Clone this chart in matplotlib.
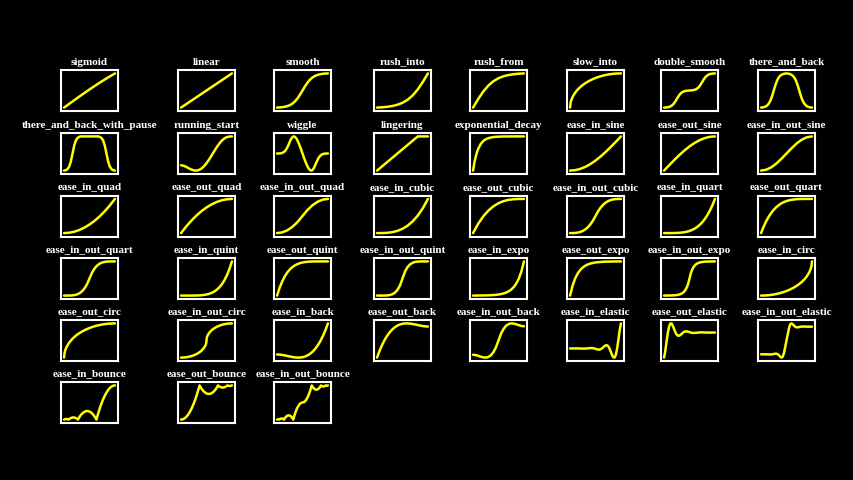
import matplotlib.pyplot as plt

# sample grids (t values)
X11 = [0, .1, .2, .3, .4, .5, .6, .7, .8, .9, 1]
X21 = [0, .05, .1, .15, .2, .25, .3, .35, .4, .45, .5, .55, .6, .65, .7, .75, .8, .85, .9, .95, 1]
X41 = [0, .025, .05, .075, .1, .125, .15, .175, .2, .225, .25, .275, .3, .325, .35, .375, .4, .425,
       .45, .475, .5, .525, .55, .575, .6, .625, .65, .675, .7, .725, .75, .775, .8, .825, .85, .875,
       .9, .925, .95, .975, 1]
X_PAUSE = [0, .0333, .0667, .1, .1333, .1667, .2, .2333, .2667, .3, .3333,
           .6667, .7, .7333, .7667, .8, .8333, .8667, .9, .9333, .9667, 1]
X_DECAY = [0, .025, .05, .075, .1, .15, .2, .25, .3, .4, .5, .6, .7, .8, .9, 1]
X_CIRC_OUT = [0, .01, .025, .05, .1, .15, .2, .25, .3, .35, .4, .45, .5, .55, .6, .65, .7, .75, .8,
              .85, .9, .95, 1]
X_CIRC_IN = [0, .05, .1, .15, .2, .25, .3, .35, .4, .45, .5, .55, .6, .65, .7, .75, .8, .85, .9, .95,
             .975, .99, 1]
X_CIRC_IO = [0, .05, .1, .15, .2, .25, .3, .35, .4, .45, .475, .4875, .495, .5, .505, .5125, .525,
             .55, .6, .65, .7, .75, .8, .85, .9, .95, 1]
X_EXPO_IO = [0, .05, .1, .15, .2, .25, .3, .325, .35, .375, .4, .425, .45, .475, .5, .525, .55, .575,
             .6, .625, .65, .675, .7, .75, .8, .85, .9, .95, 1]
X_BOUNCE_OUT = [0, .025, .05, .075, .1, .125, .15, .175, .2, .225, .25, .275, .3, .325, .35, .3636,
                .375, .4, .425, .45, .475, .5, .525, .55, .575, .6, .625, .65, .675, .7, .725, .7273,
                .75, .775, .8, .825, .85, .875, .9, .9091, .925, .95, .975, 1]
X_BOUNCE_IN = [0, .025, .05, .075, .0909, .1, .125, .15, .175, .2, .225, .25, .2727, .275, .3, .325,
               .35, .375, .4, .425, .45, .475, .5, .525, .55, .575, .6, .625, .6364, .65, .675, .7,
               .725, .75, .775, .8, .825, .85, .875, .9, .925, .95, .975, 1]
X_BOUNCE_IO = [0, .0125, .025, .0375, .0455, .05, .0625, .075, .0875, .1, .1125, .125, .1364, .15,
               .175, .2, .225, .25, .275, .3, .3182, .325, .35, .375, .4, .425, .45, .475, .5,
               .525, .55, .575, .6, .625, .65, .675, .6818, .7, .725, .75, .775, .8, .825, .85,
               .8636, .875, .8875, .9, .9125, .925, .9375, .95, .9545, .9625, .975, .9875, 1]

# rate function values
sigmoid_y = [.5, .525, .5498, .5744, .5987, .6225, .6457, .6682, .69, .711, .7311]
linear_x = [0, 1]
linear_y = [0, 1]
smooth_y = [0, .0044, .0115, .0229, .0413, .0701, .1140, .1781, .2658, .3759, .5, .6241, .7342,
            .8219, .8860, .9299, .9587, .9771, .9885, .9956, 1]
rush_into_y = [0, .0087, .0229, .0459, .0826, .1402, .2281, .3562, .5316, .7518, 1]
rush_from_y = [0, .2482, .4684, .6438, .7720, .8598, .9174, .9542, .9770, .9912, 1]
slow_into_y = [0, .1411, .2222, .3122, .4359, .5268, .6, .6614, .7141, .7599, .8, .8352, .8660,
               .8930, .9165, .9367, .9539, .9682, .9798, .9887, .9950, .9987, 1]
double_smooth_y = [0, .0022, .0057, .0115, .0206, .0350, .0570, .0891, .1329, .1879, .25, .3121,
                   .3671, .4109, .4430, .4650, .4794, .4885, .4943, .4978, .5, .5022, .5057, .5115,
                   .5206, .5350, .5570, .5891, .6329, .6879, .75, .8121, .8671, .9109, .9430, .9650,
                   .9794, .9885, .9943, .9978, 1]
there_and_back_y = [0, .0044, .0115, .0229, .0413, .0701, .1140, .1781, .2658, .3759, .5, .6241,
                    .7342, .8219, .8860, .9299, .9587, .9771, .9885, .9956, 1, .9956, .9885, .9771,
                    .9587, .9299, .8860, .8219, .7342, .6241, .5, .3759, .2658, .1781, .1140, .0701,
                    .0413, .0229, .0115, .0044, 0]
pause_y = [0, .0115, .0413, .1140, .2658, .5, .7342, .8860, .9587, .9885, 1,
           1, .9885, .9587, .8860, .7342, .5, .2658, .1140, .0413, .0115, 0]
running_start_y = [0, -.0163, -.0552, -.1029, -.1469, -.1766, -.1842, -.1643, -.1146, -.0353, .0703,
                   .1969, .3370, .4818, .6219, .7482, .8525, .9292, .9763, .9967, 1]
wiggle_y = [0, .0007, .0036, .0104, .0243, .0496, .0922, .1587, .2528, .3713, .5, .6164, .6983,
            .7323, .7168, .6575, .5635, .4436, .3055, .1557, 0, -.1557, -.3055, -.4436, -.5635,
            -.6575, -.7168, -.7323, -.6983, -.6164, -.5, -.3713, -.2528, -.1587, -.0922, -.0496,
            -.0243, -.0104, -.0036, -.0007, 0]
lingering_x = [0, .8, 1]
lingering_y = [0, 1, 1]
exp_decay_y = [0, .2212, .3935, .5276, .6321, .7769, .8647, .9179, .9502, .9817, .9933, .9975,
               .9991, .9997, .9999, .99995]
in_sine_y = [0, .0123, .0489, .1090, .1910, .2929, .4122, .5460, .6910, .8436, 1]
out_sine_y = [0, .1564, .3090, .4540, .5878, .7071, .8090, .8910, .9511, .9877, 1]
in_out_sine_y = [0, .0245, .0955, .2061, .3455, .5, .6545, .7939, .9045, .9755, 1]
in_quad_y = [0, .01, .04, .09, .16, .25, .36, .49, .64, .81, 1]
out_quad_y = [0, .19, .36, .51, .64, .75, .84, .91, .96, .99, 1]
in_out_quad_y = [0, .02, .08, .18, .32, .5, .68, .82, .92, .98, 1]
in_cubic_y = [0, .001, .008, .027, .064, .125, .216, .343, .512, .729, 1]
out_cubic_y = [0, .271, .488, .657, .784, .875, .936, .973, .992, .999, 1]
in_out_cubic_y = [0, .0005, .004, .0135, .032, .0625, .108, .1715, .256, .3645, .5, .6355, .744,
                  .8285, .892, .9375, .968, .9865, .996, .9995, 1]
in_quart_y = [0, 0, .0001, .0005, .0016, .0039, .0081, .0150, .0256, .0410, .0625, .0915, .1296,
              .1785, .2401, .3164, .4096, .5220, .6561, .8145, 1]
out_quart_y = [0, .1855, .3439, .4780, .5904, .6836, .7599, .8215, .8704, .9085, .9375, .9590,
               .9744, .9850, .9919, .9961, .9984, .9995, .9999, 1, 1]
in_out_quart_y = [0, .0001, .0008, .0041, .0128, .0313, .0648, .1201, .2048, .3281, .5, .6719,
                  .7952, .8799, .9352, .9687, .9872, .9959, .9992, .9999, 1]
in_quint_y = [0, 0, 0, .0001, .0003, .0010, .0024, .0053, .0102, .0185, .0313, .0503, .0778, .1160,
              .1681, .2373, .3277, .4437, .5905, .7738, 1]
out_quint_y = [0, .2262, .4095, .5563, .6723, .7627, .8319, .8840, .9222, .9497, .9688, .9815,
               .9898, .9947, .9976, .9990, .9997, .9999, 1, 1, 1]
in_out_quint_y = [0, 0, .0002, .0012, .0051, .0156, .0389, .0840, .1638, .2952, .5, .7048, .8362,
                  .9160, .9611, .9844, .9949, .9988, .9998, 1, 1]
in_expo_y = [0, .0014, .0020, .0028, .0039, .0055, .0078, .0110, .0156, .0221, .0313, .0442, .0625,
             .0884, .125, .1768, .25, .3536, .5, .7071, 1]
out_expo_y = [0, .2929, .5, .6464, .75, .8232, .875, .9116, .9375, .9558, .9688, .9779, .9844,
              .9890, .9922, .9945, .9961, .9972, .9980, .9986, 1]
in_out_expo_y = [0, .0010, .0020, .0039, .0078, .0156, .0313, .0442, .0625, .0884, .125, .1768, .25,
                 .3536, .5, .6464, .75, .8232, .875, .9116, .9375, .9558, .9688, .9844, .9922,
                 .9961, .9980, .9990, 1]
in_circ_y = [0, .0013, .0050, .0113, .0202, .0318, .0461, .0633, .0835, .1070, .1340, .1648, .2,
             .2401, .2859, .3386, .4, .4732, .5641, .6878, .7778, .8589, 1]
out_circ_y = [0, .1411, .2222, .3122, .4359, .5268, .6, .6614, .7141, .7599, .8, .8352, .8660,
              .8930, .9165, .9367, .9539, .9682, .9798, .9887, .9950, .9987, 1]
in_out_circ_y = [0, .0025, .0101, .0230, .0417, .0670, .1, .1429, .2, .2821, .3439, .3889, .4295,
                 .5, .5705, .6111, .6561, .7179, .8, .8571, .9, .9330, .9583, .9770, .9899, .9975, 1]
in_back_y = [0, -.0039, -.0143, -.0292, -.0465, -.0641, -.0802, -.0926, -.0994, -.0984, -.0877,
             -.0653, -.0290, .0230, .0929, .1826, .2942, .4297, .5912, .7806, 1]
out_back_y = [0, .2194, .4088, .5703, .7058, .8174, .9071, .9770, 1.0290, 1.0653, 1.0877, 1.0984,
              1.0994, 1.0926, 1.0802, 1.0641, 1.0465, 1.0292, 1.0143, 1.0039, 1]
in_out_back_y = [0, -.0112, -.0375, -.0682, -.0926, -.0997, -.0788, -.0192, .0899, .2594, .5,
                 .7406, .9101, 1.0192, 1.0788, 1.0997, 1.0926, 1.0682, 1.0375, 1.0112, 1]
in_elastic_y = [0, 0, .0007, .0014, .0019, .0020, .0014, 0, -.0020, -.0040, -.0055, -.0057, -.0039,
                0, .0055, .0114, .0156, .0161, .0110, 0, -.0156, -.0322, -.0442, -.0455, -.0313, 0,
                .0442, .0910, .125, .1287, .0884, 0, -.125, -.2575, -.3536, -.3641, -.25, 0, .3536,
                .7282, 1]
out_elastic_y = [0, .2718, .6464, 1.0, 1.25, 1.3641, 1.3536, 1.2575, 1.125, 1.0, .9116, .8713, .875,
                 .9090, .9558, 1.0, 1.0313, 1.0455, 1.0442, 1.0322, 1.0156, 1.0, .9890, .9839, .9844,
                 .9886, .9945, 1.0, 1.0039, 1.0057, 1.0055, 1.0040, 1.0020, 1.0, .9986, .9980,
                 .9981, .9986, .9993, 1.0, 1]
in_out_elastic_y = [0, .0005, .0010, .0011, .0003, -.0014, -.0037, -.0052, -.0039, .0019, .0120,
                    .0221, .0239, .0077, -.0313, -.0831, -.1175, -.0884, .0434, .2708, .5, .7292,
                    .9566, 1.0884, 1.1175, 1.0831, 1.0313, .9923, .9761, .9779, .9880, .9981,
                    1.0039, 1.0052, 1.0037, 1.0014, .9997, .9989, .9990, .9995, 1]
in_bounce_y = [0, .0125, .0155, .0090, 0, .0119, .0381, .0548, .0621, .06, .0484, .0273, 0, .0062,
               .0694, .1231, .1673, .2021, .2275, .2434, .2498, .2468, .2344, .2125, .1811, .1403,
               .09, .0303, 0, .0736, .2012, .3194, .4281, .5273, .6171, .6975, .7684, .8298, .8818,
               .9244, .9575, .9811, .9953, 1]
out_bounce_y = [0, .0047, .0189, .0425, .0756, .1182, .1702, .2316, .3025, .3829, .4727, .5719,
                .6806, .7988, .9264, 1.0, .9697, .91, .8597, .8189, .7875, .7656, .7532, .7502,
                .7566, .7725, .7979, .8327, .8769, .9306, .9938, 1.0, .9727, .9516, .94, .9379,
                .9452, .9619, .9881, 1.0, .9910, .9845, .9875, 1.0]
in_out_bounce_y = [0, .0063, .0078, .0045, 0, .0060, .0191, .0274, .0311, .03, .0242, .0137, 0,
                   .0347, .0837, .1138, .1249, .1172, .0906, .045, 0, .0368, .1597, .2637, .3488,
                   .4149, .4622, .4906, .5, .5095, .5378, .5851, .6513, .7364, .8403, .9632, 1.0,
                   .955, .9095, .8828, .8751, .8863, .9164, .9653, 1.0, .9864, .9758, .97, .9690,
                   .9726, .9810, .9941, 1.0, .9955, .9923, .9938, 1.0]

names = ['sigmoid', 'linear', 'smooth', 'rush_into', 'rush_from', 'slow_into', 'double_smooth',
         'there_and_back', 'there_and_back_with_pause', 'running_start', 'wiggle', 'lingering',
         'exponential_decay', 'ease_in_sine', 'ease_out_sine', 'ease_in_out_sine',
         'ease_in_quad', 'ease_out_quad', 'ease_in_out_quad', 'ease_in_cubic', 'ease_out_cubic',
         'ease_in_out_cubic', 'ease_in_quart', 'ease_out_quart', 'ease_in_out_quart',
         'ease_in_quint', 'ease_out_quint', 'ease_in_out_quint', 'ease_in_expo', 'ease_out_expo',
         'ease_in_out_expo', 'ease_in_circ', 'ease_out_circ', 'ease_in_out_circ', 'ease_in_back',
         'ease_out_back', 'ease_in_out_back', 'ease_in_elastic', 'ease_out_elastic',
         'ease_in_out_elastic', 'ease_in_bounce', 'ease_out_bounce', 'ease_in_out_bounce']

series = [
    (X11, sigmoid_y), (linear_x, linear_y), (X21, smooth_y), (X11, rush_into_y),
    (X11, rush_from_y), (X_CIRC_OUT, slow_into_y), (X41, double_smooth_y), (X41, there_and_back_y),
    (X_PAUSE, pause_y), (X21, running_start_y), (X41, wiggle_y), (lingering_x, lingering_y),
    (X_DECAY, exp_decay_y), (X11, in_sine_y), (X11, out_sine_y), (X11, in_out_sine_y),
    (X11, in_quad_y), (X11, out_quad_y), (X11, in_out_quad_y), (X11, in_cubic_y),
    (X11, out_cubic_y), (X21, in_out_cubic_y), (X21, in_quart_y), (X21, out_quart_y),
    (X21, in_out_quart_y), (X21, in_quint_y), (X21, out_quint_y), (X21, in_out_quint_y),
    (X21, in_expo_y), (X21, out_expo_y), (X_EXPO_IO, in_out_expo_y), (X_CIRC_IN, in_circ_y),
    (X_CIRC_OUT, out_circ_y), (X_CIRC_IO, in_out_circ_y), (X21, in_back_y), (X21, out_back_y),
    (X21, in_out_back_y), (X41, in_elastic_y), (X41, out_elastic_y), (X41, in_out_elastic_y),
    (X_BOUNCE_IN, in_bounce_y), (X_BOUNCE_OUT, out_bounce_y), (X_BOUNCE_IO, in_out_bounce_y),
]

W, H = 854, 480
COL_LEFT = [61, 178, 274, 374, 470, 567, 661, 758]   # px, box left edge
ROW_TOP = [70, 133, 195.5, 258, 320, 382]            # px, box top edge
BOX_W, BOX_H = 57, 41

fig = plt.figure(figsize=(W / 100, H / 100), dpi=100, facecolor='black')

for i, (name, (xs, ys)) in enumerate(zip(names, series)):
    r, c = divmod(i, 8)
    ax = fig.add_axes([COL_LEFT[c] / W, 1 - (ROW_TOP[r] + BOX_H) / H, BOX_W / W, BOX_H / H])
    ax.set_facecolor('black')
    ax.plot(xs, ys, color='#FFFF00', lw=1.8, solid_capstyle='round', solid_joinstyle='round')
    ax.margins(x=0.06, y=0.10)
    ax.set_xticks([])
    ax.set_yticks([])
    for sp in ax.spines.values():
        sp.set_color('white')
        sp.set_linewidth(1.5)
    # title, baseline a few px above the box
    ax.annotate(name, xy=(0.5, 1), xycoords='axes fraction', xytext=(0, 3.9),
                textcoords='offset points', ha='center', va='baseline', color='white',
                fontsize=8, fontweight='bold', family=['Liberation Serif', 'DejaVu Serif'])

fig.savefig('out.png', dpi=100, facecolor='black')
